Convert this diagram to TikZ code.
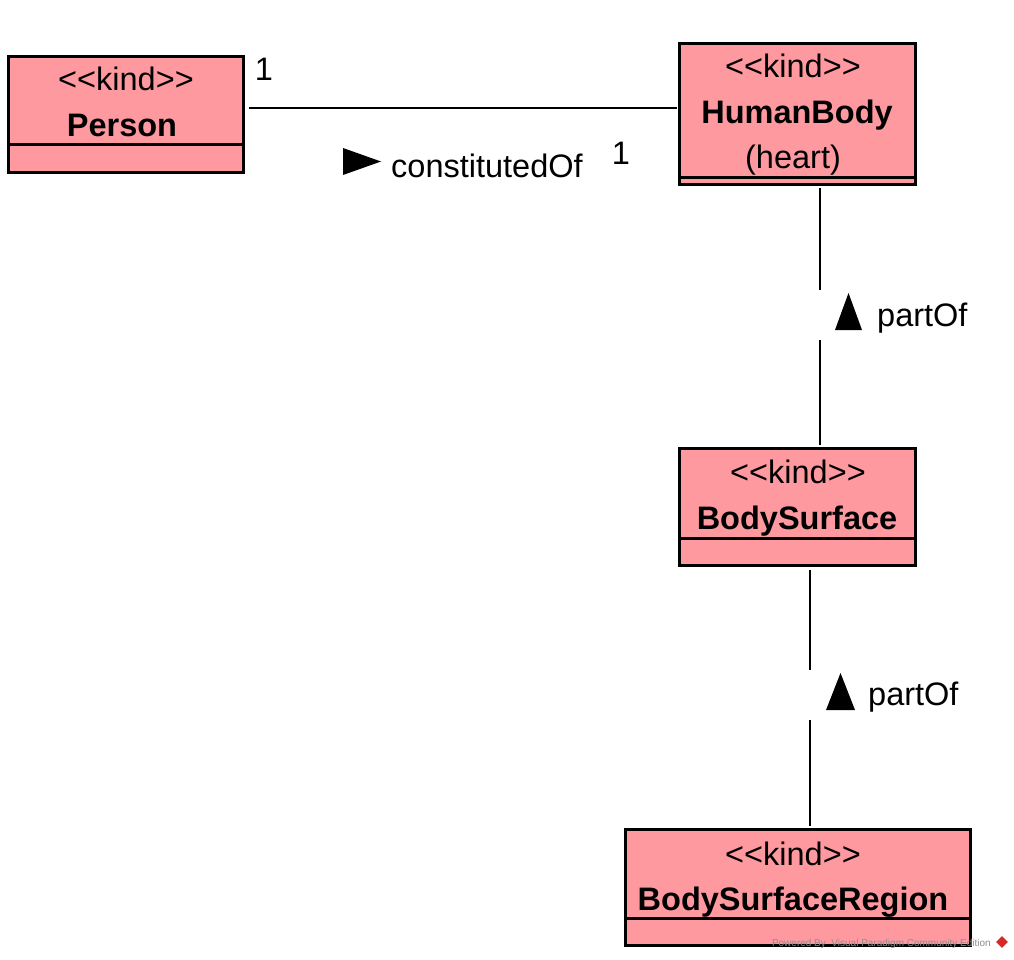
\documentclass[tikz,border=0pt]{standalone}
\usepackage{fontspec}
\setmainfont{Liberation Sans}
\usetikzlibrary{shapes.geometric}
\definecolor{kindfill}{RGB}{255,153,160}
\definecolor{wmgray}{RGB}{140,140,140}
\definecolor{wmred}{RGB}{215,40,40}
\newcommand{\kindst}{<\kern0pt<kind>\kern0pt>}
\tikzset{
  umlbox/.style={draw=black, line width=3pt, fill=kindfill, rectangle, inner sep=0pt, outer sep=0pt, anchor=north west},
  divider/.style={line width=3pt},
  stereo/.style={font=\fontsize{32.5}{38}\selectfont, inner sep=0pt, anchor=base},
  cname/.style={font=\fontsize{32.5}{38}\selectfont\bfseries, inner sep=0pt, anchor=base},
  lbl/.style={font=\fontsize{32.5}{38}\selectfont, inner sep=0pt},
  conn/.style={line width=2.5pt},
  tri/.style={fill=black, draw=none},
  wm/.style={font=\fontsize{10}{11}\selectfont, text=wmgray, inner sep=0pt, anchor=base east}
}
\begin{document}
\begin{tikzpicture}[x=1pt,y=-1pt]
\useasboundingbox (0,0) rectangle (1014,960);
% Person
\node[umlbox, minimum width=235pt, minimum height=116pt] (p) at (8.5,56.5) {};
\draw[divider] (p.west |- 0,144.5) -- (p.east |- 0,144.5);
\node[stereo] (pk) at (126,91) {\kindst};
\node[cname] (pn) at (122,137) {Person};
% HumanBody
\node[umlbox, minimum width=236pt, minimum height=141pt] (hb) at (679.5,43.5) {};
\draw[divider] (hb.west |- 0,177.5) -- (hb.east |- 0,177.5);
\node[stereo] (hbk) at (793,78) {\kindst};
\node[cname] (hbn) at (797,124) {HumanBody};
\node[stereo] (hba) at (793,169) {(heart)};
% BodySurface
\node[umlbox, minimum width=236pt, minimum height=117pt] (bs) at (679.5,448.5) {};
\draw[divider] (bs.west |- 0,538.5) -- (bs.east |- 0,538.5);
\node[stereo] (bsk) at (798,483) {\kindst};
\node[cname] (bsn) at (797,529) {BodySurface};
% BodySurfaceRegion
\node[umlbox, minimum width=345pt, minimum height=116pt] (bsr) at (625.5,829.5) {};
\draw[divider] (bsr.west |- 0,918.5) -- (bsr.east |- 0,918.5);
\node[stereo] (bsrk) at (793,865) {\kindst};
\node[cname] (bsrn) at (793,910) {BodySurfaceRegion};
% constitutedOf association
\draw[conn, shorten <=5pt, shorten >=3pt] (p.east |- 0,108) -- (hb.west |- 0,108);
\node[lbl] (m1) at (264,69) {1};
\node[lbl] (m2) at (621,153) {1};
\fill[tri] (343,148) -- (343,175) -- (381,161.5) -- cycle;
\node[lbl, anchor=west] (co) at (391,166) {constitutedOf};
% partOf HumanBody - BodySurface
\coordinate (g1a) at (820,290);
\coordinate (g1b) at (820,340);
\draw[conn, shorten <=4pt] (820,0 |- hb.south) -- (g1a);
\draw[conn, shorten >=4pt] (g1b) -- (820,0 |- bs.north);
\fill[tri] (835,330) -- (862,330) -- (848.5,293) -- cycle;
\node[lbl, anchor=west] (po1) at (877,318) {partOf};
% partOf BodySurface - BodySurfaceRegion
\coordinate (g2a) at (810,670);
\coordinate (g2b) at (810,720);
\draw[conn, shorten <=4pt] (810,0 |- bs.south) -- (g2a);
\draw[conn, shorten >=4pt] (g2b) -- (810,0 |- bsr.north);
\fill[tri] (826,710) -- (855,710) -- (840.5,673) -- cycle;
\node[lbl, anchor=west] (po2) at (868,697) {partOf};
% watermark
\node[wm] (wmt) at (991,946) {Powered By\ \ Visual Paradigm Community Edition};
\node[diamond, fill=wmred, inner sep=0pt, minimum size=12pt] (wmd) at (1002,942) {};
\end{tikzpicture}
\end{document}
